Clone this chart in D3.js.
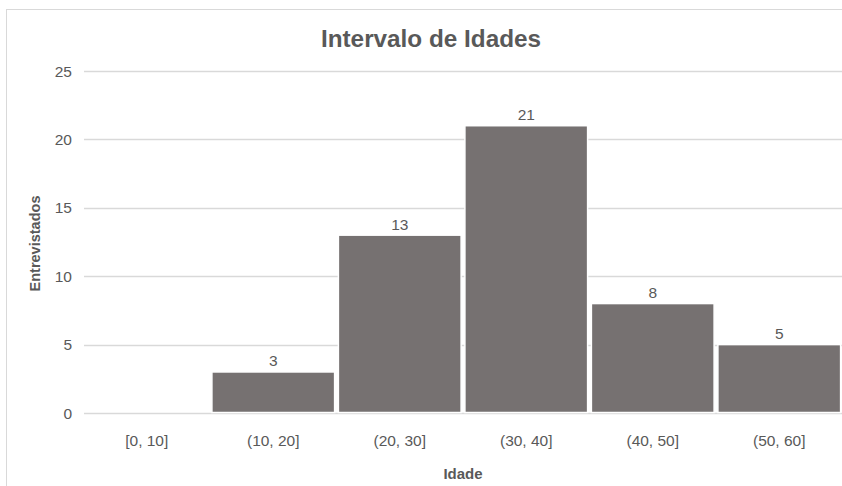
<!DOCTYPE html>
<html>
<head>
<meta charset="utf-8">
<script src="https://cdn.jsdelivr.net/npm/d3@7"></script>
<style>
  html, body { margin: 0; padding: 0; background: #fff; }
  svg { display: block; font-family: "Liberation Sans", Arial, sans-serif; }
</style>
</head>
<body>
<svg id="chart" width="842" height="486"></svg>
<script>
// Age intervals and number of respondents per interval
const categories = ["[0, 10]", "(10, 20]", "(20, 30]", "(30, 40]", "(40, 50]", "(50, 60]"];
const counts = [0, 3, 13, 21, 8, 5];
const yTicks = [0, 5, 10, 15, 20, 25];

const titleText = "Intervalo de Idades";
const xTitle = "Idade";
const yTitle = "Entrevistados";

const svg = d3.select("#chart");
const W = 842, H = 486;
const plot = { left: 84, right: 842, top: 71, bottom: 413 };

// outer chart frame
svg.append("rect")
  .attr("x", 6.5).attr("y", 9.5)
  .attr("width", W).attr("height", H)
  .attr("fill", "#fff").attr("stroke", "#d9d9d9").attr("stroke-width", 1);

const x = d3.scaleBand()
  .domain(categories)
  .range([83.5, 842.5])
  .paddingInner(0.03)
  .paddingOuter(0.015);

const y = d3.scaleLinear()
  .domain([0, 25])
  .range([plot.bottom, plot.top]);

// horizontal gridlines
svg.append("g")
  .selectAll("line")
  .data(yTicks)
  .join("line")
  .attr("x1", plot.left).attr("x2", plot.right)
  .attr("y1", d => Math.round(y(d)) + 0.5).attr("y2", d => Math.round(y(d)) + 0.5)
  .attr("stroke", "#d9d9d9").attr("stroke-width", 1.3);

// y tick labels
svg.append("g")
  .selectAll("text")
  .data(yTicks)
  .join("text")
  .attr("x", 72).attr("y", d => y(d))
  .attr("dy", "0.36em")
  .attr("text-anchor", "end")
  .attr("fill", "#595959")
  .attr("font-size", 15.5)
  .text(d => d);

// bars
const rows = categories.map((c, i) => ({ c, v: counts[i] }));
svg.append("g")
  .selectAll("rect")
  .data(rows.filter(d => d.v > 0))
  .join("rect")
  .attr("x", d => x(d.c))
  .attr("width", x.bandwidth())
  .attr("y", d => y(d.v))
  .attr("height", d => y(0) - y(d.v) - 0.5)
  .attr("fill", "#767171")
  .attr("stroke", "#ffffff")
  .attr("stroke-width", 1.5);

// value labels
svg.append("g")
  .selectAll("text")
  .data(rows.filter(d => d.v > 0))
  .join("text")
  .attr("x", d => x(d.c) + x.bandwidth() / 2)
  .attr("y", d => y(d.v) - 5.5)
  .attr("text-anchor", "middle")
  .attr("fill", "#595959")
  .attr("font-size", 15.5)
  .text(d => d.v);

// category labels
svg.append("g")
  .selectAll("text")
  .data(categories)
  .join("text")
  .attr("x", d => x(d) + x.bandwidth() / 2)
  .attr("y", 446)
  .attr("text-anchor", "middle")
  .attr("fill", "#595959")
  .attr("font-size", 15.5)
  .text(d => d);

// chart title
svg.append("text")
  .attr("x", 431).attr("y", 47)
  .attr("text-anchor", "middle")
  .attr("fill", "#595959")
  .attr("font-size", 24.3)
  .attr("font-weight", "bold")
  .text(titleText);

// axis titles
svg.append("text")
  .attr("x", 463).attr("y", 479)
  .attr("text-anchor", "middle")
  .attr("fill", "#595959")
  .attr("font-size", 15)
  .attr("font-weight", "bold")
  .text(xTitle);

svg.append("text")
  .attr("transform", "translate(39.5, 243.5) rotate(-90)")
  .attr("text-anchor", "middle")
  .attr("fill", "#595959")
  .attr("font-size", 14.5)
  .attr("font-weight", "bold")
  .text(yTitle);
</script>
</body>
</html>
